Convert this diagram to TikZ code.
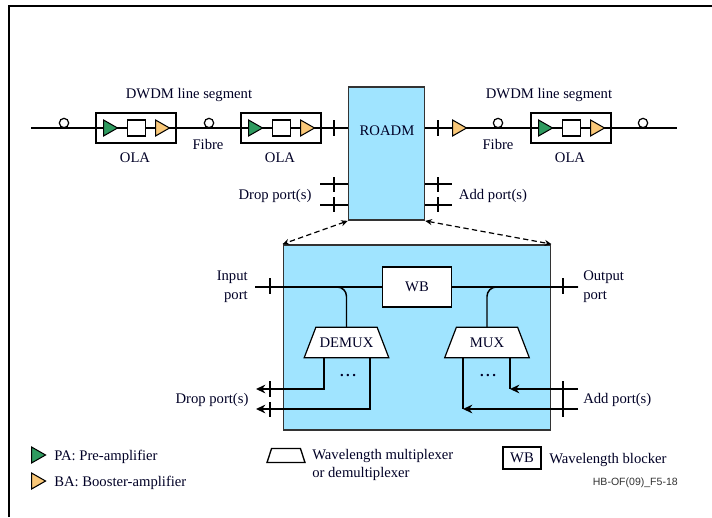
\documentclass[tikz,border=0pt]{standalone}
\usepackage{fontspec}
\setmainfont{Liberation Serif}
\setsansfont{Liberation Sans}
\usetikzlibrary{shapes.geometric,arrows.meta}
\definecolor{lightblue}{RGB}{160,228,255}
\definecolor{pagreen}{RGB}{46,155,95}
\definecolor{baorange}{RGB}{250,200,120}
\tikzstyle{label} = [font=\fontsize{11}{14}\selectfont, inner sep=0pt, text=black!85!blue]
\tikzstyle{line} = [line width=1.1pt]
\tikzstyle{arrow} = [line width=1.1pt,-{Stealth[length=7pt,width=6.5pt]}]
\tikzstyle{dasharrow} = [{Stealth[length=5pt,width=4.5pt]}-{Stealth[length=5pt,width=4.5pt]},dash pattern=on 4pt off 2.5pt,line width=.9pt]
\tikzstyle{olabox} = [rectangle, draw=black, fill=white, line width=1.1pt, minimum width=60pt, minimum height=22.5pt, inner sep=0pt]
\tikzstyle{filterbox} = [rectangle, draw=black, fill=white, line width=.9pt, minimum width=14pt, minimum height=12pt, inner sep=0pt]
\tikzstyle{ampl} = [isosceles triangle, isosceles triangle stretches, draw=black, line width=.8pt, minimum width=12pt, minimum height=10.5pt, inner sep=0pt, anchor=lower side]
\tikzstyle{pa} = [ampl, fill=pagreen]
\tikzstyle{ba} = [ampl, fill=baorange]
\tikzstyle{fibre} = [circle, draw=black, fill=white, line width=.9pt, minimum size=7pt, inner sep=0pt]
\tikzstyle{tickmark} = [rectangle, fill=black, minimum width=1.1pt, inner sep=0pt]
\tikzstyle{bluebox} = [rectangle, draw=black!80, fill=lightblue, line width=1.1pt, inner sep=0pt]
\tikzstyle{muxbox} = [label, trapezium, trapezium stretches body=true, trapezium left angle=69, trapezium right angle=69, draw=black, fill=white, line width=.9pt, minimum width=63.5pt, inner xsep=0pt, inner ysep=7.8pt, outer sep=0pt]
\tikzstyle{threedots} = [label, font=\fontsize{11}{14}\selectfont\bfseries, anchor=base]
\newcommand{\ola}[2]{
\node (#1) [olabox] at (#2+40,128) {};
\draw[line] (#1.west) -- (#1.east);
\node (#1pa) [pa] at (#2+7,128) {};
\node (#1flt) [filterbox] at (#2+40.5,128) {};
\node (#1ba) [ba] at (#2+59,128) {};
\node (#1txt) [label] at (#2+39,158) {OLA};
}
\begin{document}
\begin{tikzpicture}[x=.75pt,y=-.75pt]
\useasboundingbox (0,0) rectangle (712,517);
\fill[white] (0,0) rectangle (712,517);
\coordinate (framea) at (9,517);
\coordinate (frameb) at (9,6.5);
\coordinate (framec) at (712,6.5);
\draw[line width=1.5pt] (framea) -- (frameb) -- (framec);
% upper line
\coordinate (linestart) at (31,128);
\coordinate (lineend) at (677,128);
\node (roadm) [bluebox, minimum width=57pt, minimum height=100pt] at (386.5,153.5) {};
\node (roadmtxt) [label] at (387,131) {ROADM};
\draw[line] (linestart) -- (roadm.west |- linestart);
\draw[line] (roadm.east |- lineend) -- (lineend);
\ola{olaa}{96}
\ola{olab}{241}
\ola{olac}{531}
\node (rightba) [ba] at (452,128) {};
\foreach \x/\y [count=\i] in {64/123,209/123,498/123,643/123}
  \node (fibre\i) [fibre] at (\x,\y) {};
\node (seglabela) [label] at (189,95) {DWDM line segment};
\node (seglabelb) [label] at (549,95) {DWDM line segment};
\node (fibretxta) [label] at (208,144) {Fibre};
\node (fibretxtb) [label] at (498,144) {Fibre};
% drop and add ports
\foreach \n/\y in {a/184,b/205} {
  \coordinate (drop\n) at (320,\y);
  \coordinate (add\n) at (452,\y);
  \draw[line] (drop\n) -- (roadm.west |- drop\n);
  \draw[line] (roadm.east |- add\n) -- (add\n);
}
\node (droptxt) [label] at (275,196) {Drop port(s)};
\node (addtxt) [label] at (493,196) {Add port(s)};
% lower box
\node (detail) [bluebox, minimum width=200.5pt, minimum height=139pt] at (417,337.5) {};
\draw[dasharrow] (roadm.south west) -- (detail.north west);
\draw[dasharrow] (roadm.south east) -- (detail.north east);
\node (wb) [rectangle, draw=black, fill=white, line width=.9pt, minimum width=52pt, minimum height=30pt, inner sep=0pt, label] at (417,287) {WB};
\node (demux) [muxbox] at (346.5,342.5) {DEMUX};
\node (mux) [muxbox] at (487,342.5) {MUX};
\coordinate (inport) at (255,287);
\coordinate (outport) at (578,287);
\draw[line] (inport) -- (wb.west);
\draw[line] (wb.east) -- (outport);
\draw[line,rounded corners=7pt] (inport) -| (demux.north);
\draw[line,rounded corners=7pt] (outport) -| (mux.north);
\node (inporttxt) [label, align=right, anchor=east] at (248,287) {Input\\port};
\node (outporttxt) [label, align=left, anchor=west] at (583,287) {Output\\port};
% demux outputs
\coordinate (demoutb) at (370,358);
\coordinate (demouta) at (324,358);
\coordinate (dropouta) at (256,389);
\coordinate (dropoutb) at (256,409);
\draw[arrow] (demouta) |- (dropouta);
\draw[arrow] (demoutb) |- (dropoutb);
\node (demuxdots) [threedots] at (348,376) {.\,.\,.};
\node (dropdettxt) [label] at (212,400) {Drop port(s)};
% mux inputs
\coordinate (muxina) at (510,358);
\coordinate (muxinb) at (463,358);
\coordinate (addouta) at (578,389);
\coordinate (addoutb) at (578,409);
\draw[arrow] (addouta) -- (muxina |- addouta);
\draw[arrow] (addoutb) -- (muxinb |- addoutb);
\draw[line] (muxina) -- (muxina |- addouta);
\draw[line width=1.4pt] (muxinb) -- (muxinb |- addoutb);
\node (muxdots) [threedots] at (488,376) {.\,.\,.};
\node (adddettxt) [label, anchor=west] at (583,400) {Add port(s)};
% ticks
\foreach \x/\y/\h [count=\i] in {334/128/12,438/128/12,334/184.5/11.5,334/204.5/11.5,438/184.5/11.5,438/204.5/11.5,270/286/12,563/286/12,270/389/12,270/409.5/11.5,563/399/27}
  \node (tick\i) [tickmark, minimum height=\h pt] at (\x,\y) {};
% legend
\node (legpa) [pa] at (31,455) {};
\node (legba) [ba] at (31,481) {};
\node (legpatxt) [label, anchor=west] at (54,457) {PA: Pre-amplifier};
\node (legbatxt) [label, anchor=west] at (54,483) {BA: Booster-amplifier};
\node (legmux) [trapezium, trapezium stretches body=true, trapezium left angle=72, trapezium right angle=72, draw=black, line width=1pt, minimum width=28.5pt, inner xsep=0pt, inner ysep=3pt] at (286,455.5) {\phantom{x}};
\node (legmuxtxt) [label, align=left, anchor=west] at (312,465) {Wavelength multiplexer\\or demultiplexer};
\node (legwb) [rectangle, draw=black, line width=1pt, minimum width=28.5pt, minimum height=16.5pt, inner sep=0pt, label] at (522,458) {WB};
\node (legwbtxt) [label, anchor=west] at (549,460) {Wavelength blocker};
\node (codetxt) [font=\sffamily\fontsize{7.9}{9}\selectfont, inner sep=0pt, anchor=east, text=black!80] at (678,483) {HB-OF(09)\_F5-18};
\end{tikzpicture}
\end{document}
